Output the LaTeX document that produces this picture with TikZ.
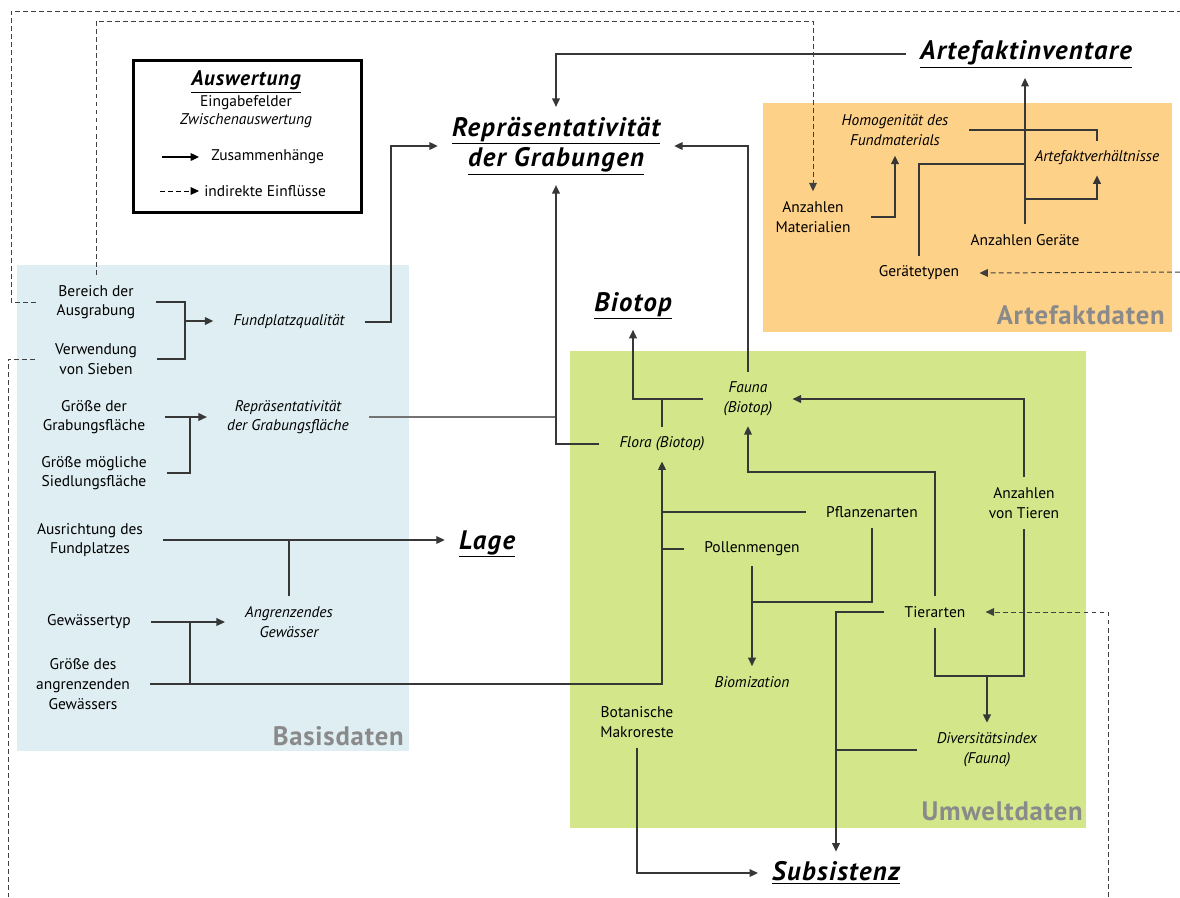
\documentclass[tikz,border=0pt]{standalone}
\usepackage{fontspec}
\setmainfont{PT Sans}
\usetikzlibrary{arrows.meta}

\definecolor{basisblau}{RGB}{223,238,242}
\definecolor{artefaktorange}{RGB}{254,209,136}
\definecolor{umweltgruen}{RGB}{211,230,138}
\definecolor{labelgrau}{RGB}{138,138,138}
\definecolor{liniengrau}{RGB}{55,55,55}

\begin{document}
\begin{tikzpicture}[x=0.025cm, y=-0.025cm,
    feld/.style={font=\fontsize{11}{14}\selectfont, align=center, inner xsep=0.5cm, inner ysep=0.25cm},
    zwischen/.style={feld, font=\fontsize{11}{14}\selectfont\itshape},
    auswertung/.style={font=\fontsize{19}{21.3}\selectfont\bfseries\itshape\addfontfeatures{LetterSpace=5}, align=center, inner xsep=0.35cm, inner ysep=0.25cm},
    datenlabel/.style={font=\fontsize{19}{21}\selectfont\bfseries\addfontfeatures{LetterSpace=3}, text=labelgrau, anchor=base east, inner sep=0pt},
    linie/.style={draw=liniengrau, line width=1pt},
    pfeil/.style={linie, -{Triangle[length=6pt,width=5.5pt]}},
    indirekt/.style={draw=black!75, line width=0.7pt, dash pattern=on 3.5pt off 2.2pt},
    indpfeil/.style={indirekt, -{Triangle[length=6pt,width=5.5pt]}}
  ]
  %%%%% START %%%%%
  \useasboundingbox (0,0) rectangle (1180,897);

  % Datenbereiche
  \fill[basisblau] (17,265) rectangle (409,751);
  \fill[artefaktorange] (763,103) rectangle (1172,332);
  \fill[umweltgruen] (570,351) rectangle (1086,828);

  \node[datenlabel] (lbasis) at (404,745) {Basisdaten};
  \node[datenlabel] (lartefakt) at (1165,324) {Artefaktdaten};
  \node[datenlabel] (lumwelt) at (1083,820) {Umweltdaten};

  % Legende
  \node[draw, line width=2.2pt, minimum width=5.7cm, minimum height=3.8cm] (legende) at (247.5,136.5) {};
  \node[font=\fontsize{15}{17}\selectfont\bfseries\itshape\addfontfeatures{LetterSpace=4}, inner sep=0pt] (lausw) at (246,82) {\underline{Auswertung}};
  \node[font=\fontsize{11}{14}\selectfont, inner sep=0pt] (lfeld) at (246,103) {Eingabefelder};
  \node[font=\fontsize{11}{14}\selectfont\itshape, inner sep=0pt] (lzwi) at (246,121) {Zwischenauswertung};
  \node[font=\fontsize{11}{14}\selectfont, anchor=west, inner sep=0pt] (lzus) at (211,157) {Zusammenhänge};
  \node[font=\fontsize{11}{14}\selectfont, anchor=west, inner sep=0pt] (lind) at (204,191) {indirekte Einflüsse};
  \draw[pfeil, draw=black] (lzus.west) ++(-49,0) -- ++(37,0);
  \draw[indpfeil, draw=black] (lind.west) ++(-44,0) -- ++(39,0);

  % Basisdaten
  \node[feld] (ausgrabung) at (96,302) {Bereich der\\Ausgrabung};
  \node[feld] (sieben) at (96,359) {Verwendung\\von Sieben};
  \node[zwischen] (fundplatz) at (289,322) {Fundplatzqualität};
  \node[feld] (grabflaeche) at (94,417) {Größe der\\Grabungsfläche};
  \node[feld] (siedlflaeche) at (94,473) {Größe mögliche\\Siedlungsfläche};
  \node[zwischen] (reprflaeche) at (288,417) {Repräsentativität\\der Grabungsfläche};
  \node[feld] (ausrichtung) at (90,540) {Ausrichtung des\\Fundplatzes};
  \node[feld] (gewtyp) at (89,622) {Gewässertyp};
  \node[feld] (gewgroesse) at (83,684) {Größe des\\angrenzenden\\Gewässers};
  \node[zwischen] (angrenzend) at (289,622) {Angrenzendes\\Gewässer};

  % Auswertungen
  \node[auswertung] (reprgrab) at (556,146) {\underline{Repräsentativität}\\\underline{der Grabungen}};
  \node[auswertung] (artinv) at (1026,54) {\underline{Artefaktinventare}};
  \node[auswertung] (biotop) at (633,306) {\underline{Biotop}};
  \node[auswertung] (lage) at (487,544) {\underline{Lage}};
  \node[auswertung] (subsistenz) at (836,873) {\underline{Subsistenz}};

  % Artefaktdaten
  \node[zwischen] (homogen) at (895,130) {Homogenität des\\Fundmaterials};
  \node[zwischen] (artverh) at (1097,158) {Artefaktverhältnisse};
  \node[feld] (anzmat) at (813,217) {Anzahlen\\Materialien};
  \node[feld] (anzger) at (1025,240) {Anzahlen Geräte};
  \node[feld] (geraetetyp) at (919,273) {Gerätetypen};

  % Umweltdaten
  \node[zwischen] (fauna) at (748,399) {Fauna\\(Biotop)};
  \node[zwischen] (flora) at (662,444) {Flora (Biotop)};
  \node[feld] (pflanzen) at (872,512) {Pflanzenarten};
  \node[feld] (pollen) at (752,549) {Pollenmengen};
  \node[feld] (anztiere) at (1024,503) {Anzahlen\\von Tieren};
  \node[feld] (tierarten) at (935,612) {Tierarten};
  \node[zwischen] (biomization) at (752,682) {Biomization};
  \node[feld] (botanik) at (637,722) {Botanische\\Makroreste};
  \node[zwischen] (diversitaet) at (987,750) {Diversitätsindex\\(Fauna)};

  % Knickpunkte
  \coordinate (kFund) at (185,321);
  \coordinate (kFlaeche) at (190,415);
  \coordinate (kGew) at (190,622);
  \coordinate (kGrab) at (391,0);
  \coordinate (kBiom) at (0,602);
  \coordinate (kFauna) at (0,472);
  \coordinate (kDiv) at (0,676);
  \coordinate (kVerh) at (0,199);
  \coordinate (kTyp) at (0,164);
  \coordinate (kOben) at (0,21);
  \coordinate (kLinks) at (11,11);
  \coordinate (rechts1) at (1180,11);
  \coordinate (rechts2) at (1180,272);
  \coordinate (unten1) at (8,897);
  \coordinate (unten2) at (1108,897);

  % Basisdaten
  \draw[linie] (ausgrabung.east) -| (kFund) |- (sieben.east);
  \draw[pfeil] (kFund) -- (kFund -| fundplatz.west);
  \draw[linie] (grabflaeche.east) -| (kFlaeche |- siedlflaeche.east) -- (siedlflaeche.east);
  \draw[pfeil] (grabflaeche.east -| kFlaeche) -- (grabflaeche.east -| reprflaeche.west);
  \draw[linie] (gewtyp.east) -| (kGew |- gewgroesse.east);
  \draw[pfeil] (gewtyp.east -| kGew) -- (gewtyp.east -| angrenzend.west);
  \draw[pfeil] (gewgroesse.east) -| (flora.south);
  \draw[pfeil] (ausrichtung.east) -- (ausrichtung.east -| lage.west);
  \draw[linie] (angrenzend.north) -- (angrenzend.north |- ausrichtung.east);

  \draw[pfeil] (fundplatz.east) -| (kGrab |- reprgrab.west) -- (reprgrab.west);
  \draw[linie, draw=black!55] (reprflaeche.east) -- (reprflaeche.east -| reprgrab.south);
  \draw[pfeil] (flora.west) -| (reprgrab.south);

  % Auswertungen oben
  \draw[pfeil] (artinv.west) -| (reprgrab.north);
  \draw[pfeil] (fauna.north) |- (reprgrab.east);

  % Biotop
  \draw[pfeil] (fauna.west) -| (biotop.south);
  \draw[linie] (flora.north) -- (flora.north |- fauna.west);

  % Umweltdaten
  \draw[pfeil] (anztiere.north) |- (fauna.east);
  \draw[pfeil] (tierarten.north) |- (kFauna -| fauna.south) -- (fauna.south);
  \draw[linie] (pflanzen.west) -- (pflanzen.west -| flora.south);
  \draw[linie] (pollen.west) -- (pollen.west -| flora.south);
  \draw[linie] (pflanzen.south) |- (kBiom -| pollen.south);
  \draw[pfeil] (pollen.south) -- (biomization.north);
  \draw[pfeil] (tierarten.west) -| (subsistenz.north);
  \draw[linie] (diversitaet.west) -- (diversitaet.west -| subsistenz.north);
  \draw[linie] (tierarten.south) |- (kDiv -| anztiere.south) -- (anztiere.south);
  \draw[pfeil, line width=1.6pt] (kDiv -| diversitaet.north) -- (diversitaet.north);
  \draw[pfeil] (botanik.south) |- (subsistenz.west);

  % Artefaktdaten
  \draw[pfeil] (anzmat.east) -| (homogen.south);
  \draw[pfeil] (anzger.north) -- (anzger.north |- artinv.south);
  \draw[pfeil] (kVerh -| anzger.north) -| (artverh.south);
  \draw[linie] (geraetetyp.north) |- (kTyp -| anzger.north);
  \draw[linie] (artverh.north) |- (homogen.east);

  % indirekte Einfluesse
  \draw[indirekt] (ausgrabung.west) -| (kLinks) -- (rechts1);
  \draw[indpfeil] (rechts2) -- (geraetetyp.east);
  \draw[indpfeil] (ausgrabung.north) |- (kOben -| anzmat.north) -- (anzmat.north);
  \draw[indirekt] (sieben.west) -| (unten1);
  \draw[indpfeil] (unten2) |- (tierarten.east);
  %%%%% END %%%%%
\end{tikzpicture}
\end{document}
